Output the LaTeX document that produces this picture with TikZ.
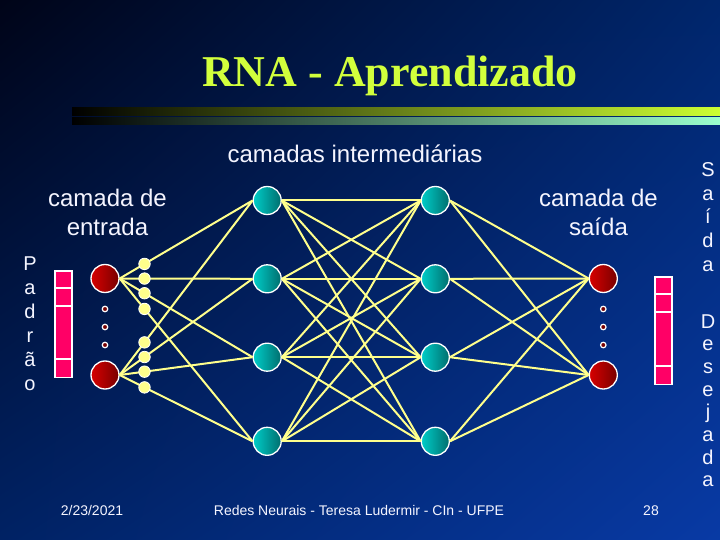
\documentclass[tikz,border=0pt]{standalone}
\usepackage{fontspec}
\setmainfont{Liberation Sans}
\newfontfamily\titlefont{Liberation Serif}
\usetikzlibrary{calc,shadings}

\definecolor{bgTL}{RGB}{0,4,24}
\definecolor{bgTR}{RGB}{0,38,108}
\definecolor{bgBL}{RGB}{0,34,100}
\definecolor{bgBR}{RGB}{8,58,165}
\definecolor{titlecol}{RGB}{210,255,60}
\definecolor{barA}{RGB}{205,255,50}
\definecolor{barB}{RGB}{155,255,205}
\definecolor{wirecol}{RGB}{255,255,140}
\definecolor{pinkcell}{RGB}{255,0,102}
\definecolor{redL}{RGB}{215,0,0}
\definecolor{redR}{RGB}{120,0,0}
\definecolor{tealL}{RGB}{0,205,200}
\definecolor{tealR}{RGB}{0,110,110}
\definecolor{dotcol}{RGB}{255,255,140}
\definecolor{txt}{RGB}{245,245,255}

\begin{document}
\begin{tikzpicture}[x=1pt,y=-1pt,
  redn/.style={circle, draw=white, line width=1.3pt, minimum size=28pt, inner sep=0pt, left color=redL, right color=redR},
  tealn/.style={circle, draw=white, line width=1.3pt, minimum size=28pt, inner sep=0pt, left color=tealL, right color=tealR},
  wire/.style={draw=wirecol, line width=2pt},
  ydot/.style={circle, draw=white, line width=0.8pt, fill=dotcol, minimum size=11.5pt, inner sep=0pt},
  sdot/.style={circle, draw=white, line width=1.2pt, fill=redR, minimum size=5.5pt, inner sep=0pt},
  cell/.style={draw=white, line width=1.3pt, fill=pinkcell},
  lbl/.style={text=txt, font=\fontsize{24}{28}\selectfont, anchor=base, inner sep=0pt},
  vlet/.style={text=txt, font=\fontsize{20}{24}\selectfont, anchor=base, inner sep=0pt},
  foot/.style={text=txt, font=\fontsize{14}{16}\selectfont, anchor=base, inner sep=0pt},
  ttl/.style={text=titlecol, font=\titlefont\bfseries\fontsize{44}{50}\selectfont, anchor=base, inner sep=0pt}
]
\useasboundingbox (0,0) rectangle (720,540);
\shade[upper left=bgTL, upper right=bgTR, lower left=bgBL, lower right=bgBR] (0,0) rectangle (720,540);

% title and bars
\node[ttl] (title) at (390,87) {RNA - Aprendizado};
\shade[left color=black, right color=barA] (72,108) rectangle (720,116);
\shade[left color=black, right color=barB] (72,118) rectangle (720,125);

% labels
\node[lbl] (lmid) at (355,163) {camadas intermediárias};
\node[lbl] (lin1) at (107.5,206.5) {camada de};
\node[lbl] (lin2) at (107.5,235.5) {entrada};
\node[lbl] (lout1) at (598.5,206.5) {camada de};
\node[lbl] (lout2) at (598.5,235.5) {saída};

% neurons
\node[redn] (in1) at (105,278.5) {};
\node[redn] (in2) at (105,375) {};
\foreach \j/\y in {1/200.5,2/278.8,3/357.2,4/441.3}{
  \node[tealn] (ha\j) at (267.2,\y) {};
  \node[tealn] (hb\j) at (435.3,\y) {};
}
\node[redn] (out1) at (603.3,278.5) {};
\node[redn] (out2) at (603.3,375) {};

% connections
\foreach \i in {1,2}{\foreach \j in {1,...,4}{\draw[wire] (in\i.east) -- (ha\j.west);}}
\foreach \i in {1,...,4}{\foreach \j in {1,...,4}{\draw[wire] (ha\i.east) -- (hb\j.west);}}
\foreach \i in {1,...,4}{\foreach \j in {1,2}{\draw[wire] (hb\i.east) -- (out\j.west);}}

% weight dots
\foreach \i in {1,2}{\foreach \j in {1,...,4}{
  \node[ydot] (w\i\j) at ($(in\i.east)!0.187!(ha\j.west)$) {};
}}

% ellipsis dots
\foreach \k/\y in {1/309,2/327,3/345}{
  \node[sdot] (li\k) at (105,\y) {};
  \node[sdot] (ro\k) at (603.3,\y) {};
}

% input pattern
\draw[cell] (55,271) rectangle (72,288);
\draw[cell] (55,288) rectangle (72,306);
\draw[cell] (55,306) rectangle (72,359);
\draw[cell] (55,359) rectangle (72,377.5);

% desired output
\draw[cell] (655,277) rectangle (672,294);
\draw[cell] (655,294) rectangle (672,312);
\draw[cell] (655,312) rectangle (672,366);
\draw[cell] (655,366) rectangle (672,384.5);

% vertical texts
\foreach \ch [count=\k] in {P,a,d,r,ã,o}{
  \node[vlet] (pd\k) at (30,{270+24*(\k-1)}) {\ch};
}
\foreach \ch [count=\k] in {S,a,í,d,a}{
  \node[vlet] (sa\k) at (708,{177+23.5*(\k-1)}) {\ch};
}
\foreach \ch [count=\k] in {D,e,s,e,j,a,d,a}{
  \node[vlet] (de\k) at (708,{328+22.7*(\k-1)}) {\ch};
}

% footer
\node[foot] (fdate) at (92,515) {2/23/2021};
\node[foot] (fmid) at (359,515) {Redes Neurais - Teresa Ludermir - CIn - UFPE};
\node[foot] (fnum) at (651,515) {28};
\end{tikzpicture}
\end{document}
